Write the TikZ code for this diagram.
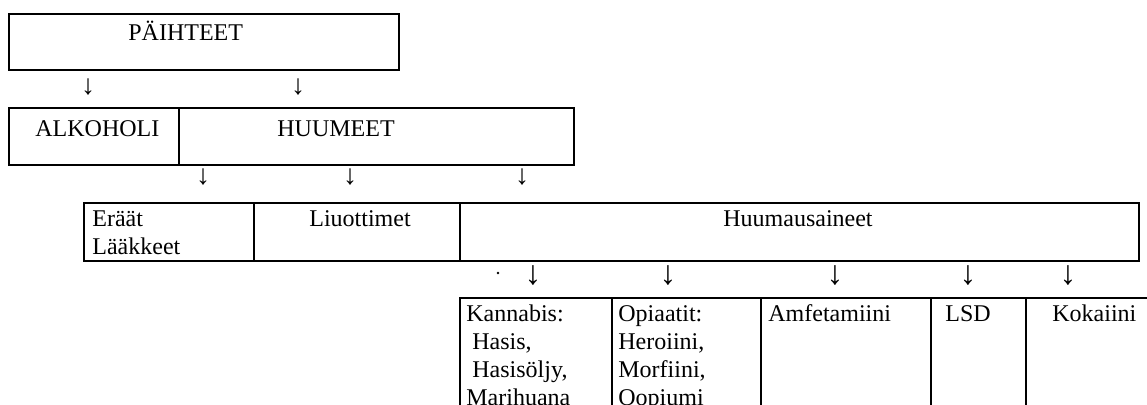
\documentclass[tikz,border=0pt]{standalone}
\usepackage{fontspec}
\setmainfont{Liberation Serif}

\tikzset{
  box/.style={draw, line width=0.9pt, inner sep=0pt, anchor=north west},
  txt/.style={inner sep=0pt, anchor=base west, align=left},
  arr/.style={inner sep=0pt, font=\fontsize{14}{14}\selectfont}
}

\begin{document}
\begin{tikzpicture}[x=0.5pt, y=-0.5pt, font=\fontsize{12}{14}\selectfont]
\useasboundingbox (0,0) rectangle (1147,405);
\clip (0,0) rectangle (1147,405);

\node[box, minimum width=195pt, minimum height=28pt] (paihteet) at (8,13) {};
\node[txt] (tpaihteet) at (128,41) {PÄIHTEET};
\node[arr] (a1) at (88,87) {↓};
\node[arr] (a2) at (298,87) {↓};

\node[box, minimum width=85pt, minimum height=28.5pt] (alkoholi) at (8,107) {};
\node[box, minimum width=197.5pt, minimum height=28.5pt] (huumeet) at (178,107) {};
\node[txt] (talkoholi) at (35,137) {ALKOHOLI};
\node[txt] (thuumeet) at (277,137) {HUUMEET};
\node[arr] (b1) at (203,177) {↓};
\node[arr] (b2) at (350,177) {↓};
\node[arr] (b3) at (522,177) {↓};

\node[box, minimum width=85pt, minimum height=29pt] (eraat) at (83,202) {};
\node[box, minimum width=103pt, minimum height=29pt] (liuottimet) at (253,202) {};
\node[box, minimum width=339.5pt, minimum height=29pt] (huumausaineet) at (459,202) {};
\node[txt] (teraat) at (92,255) {Eräät\\Lääkkeet};
\node[txt, anchor=base] (tliuottimet) at (360,227) {Liuottimet};
\node[txt, anchor=base] (thuumausaineet) at (798,227) {Huumausaineet};
\fill (498,273) circle (1.3);
\node[arr, scale=1.2] (c1) at (533,276) {↓};
\node[arr, scale=1.2] (c2) at (668,276) {↓};
\node[arr, scale=1.2] (c3) at (835,276) {↓};
\node[arr, scale=1.2] (c4) at (968,276) {↓};
\node[arr, scale=1.2] (c5) at (1068,276) {↓};

\node[box, minimum width=76pt, minimum height=62pt] (kannabis) at (459,297) {};
\node[box, minimum width=74.5pt, minimum height=62pt] (opiaatit) at (611,297) {};
\node[box, minimum width=85pt, minimum height=62pt] (amfetamiini) at (760,297) {};
\node[box, minimum width=47.5pt, minimum height=62pt] (lsd) at (930,297) {};
\node[box, minimum width=67.5pt, minimum height=62pt] (kokaiini) at (1025,297) {};
\node[txt] (tkannabis) at (466,406) {Kannabis:\\\hspace*{3pt}Hasis,\\\hspace*{3pt}Hasisöljy,\\Marihuana};
\node[txt] (topiaatit) at (618,406) {Opiaatit:\\Heroiini,\\Morfiini,\\Oopiumi};
\node[txt] (tamfetamiini) at (768,322) {Amfetamiini};
\node[txt, anchor=base] (tlsd) at (968,322) {LSD};
\node[txt] (tkokaiini) at (1052,322) {Kokaiini};
\end{tikzpicture}
\end{document}
